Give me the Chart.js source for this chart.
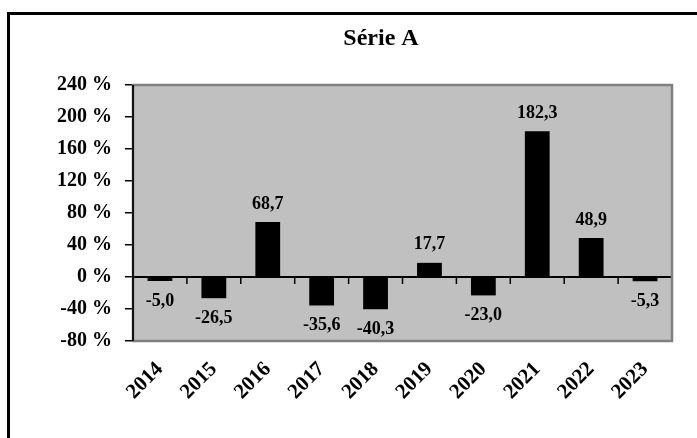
<!DOCTYPE html>
<html>
<head>
<meta charset="utf-8">
<script src="https://cdn.jsdelivr.net/npm/chart.js@4/dist/chart.umd.min.js"></script>
<style>
html,body{margin:0;padding:0;background:#fff;}
#wrap{width:697px;height:438px;position:relative;}
</style>
</head>
<body>
<div id="wrap"><canvas id="c" width="697" height="438"></canvas></div>
<script>
const chartTitle = 'Série A';
const categories = ['2014','2015','2016','2017','2018','2019','2020','2021','2022','2023'];
const values = [-5.0, -26.5, 68.7, -35.6, -40.3, 17.7, -23.0, 182.3, 48.9, -5.3];
const yMin = -80, yMax = 240, yStep = 40;

const SERIF = "'Liberation Serif', 'Times New Roman', serif";

const decor = {
  id: 'decor',
  beforeDraw(chart) {
    const ctx = chart.ctx, a = chart.chartArea;
    ctx.save();
    ctx.fillStyle = '#ffffff';
    ctx.fillRect(0, 0, chart.width, chart.height);
    ctx.fillStyle = '#000';
    ctx.fillRect(7, 12, 3, chart.height);
    ctx.fillRect(7, 12, chart.width, 3);
    ctx.fillStyle = '#c0c0c0';
    ctx.fillRect(a.left, a.top, a.right - a.left, a.bottom - a.top);
    ctx.restore();
  },
  afterDraw(chart) {
    const ctx = chart.ctx, a = chart.chartArea;
    ctx.save();
    ctx.strokeStyle = '#808080';
    ctx.lineWidth = 2.5;
    ctx.strokeRect(a.left, a.top, a.right - a.left, a.bottom - a.top);
    ctx.strokeStyle = '#111';
    ctx.lineWidth = 2;
    ctx.beginPath();
    ctx.moveTo(a.left, a.top);
    ctx.lineTo(a.left, a.bottom);
    ctx.stroke();
    ctx.fillStyle = '#000';
    ctx.font = 'bold 24px ' + SERIF;
    ctx.textAlign = 'center';
    ctx.textBaseline = 'middle';
    ctx.fillText(chartTitle, 381, 39);
    ctx.restore();
  },
  afterDatasetsDraw(chart) {
    const ctx = chart.ctx, a = chart.chartArea;
    const ys = chart.scales.y, xs = chart.scales.x;
    const y0 = ys.getPixelForValue(0);
    ctx.save();
    ctx.strokeStyle = '#000';
    ctx.lineWidth = 2;
    ctx.beginPath();
    ctx.moveTo(a.left, y0);
    ctx.lineTo(a.right, y0);
    ctx.stroke();
    const n = categories.length;
    ctx.lineWidth = 1.5;
    for (let i = 1; i <= n; i++) {
      const x = (i < n) ? (xs.getPixelForValue(i - 1) + xs.getPixelForValue(i)) / 2 : a.right;
      ctx.beginPath();
      ctx.moveTo(x, y0);
      ctx.lineTo(x, y0 + 7);
      ctx.stroke();
    }
    const meta = chart.getDatasetMeta(0);
    ctx.fillStyle = '#000';
    ctx.font = 'bold 18px ' + SERIF;
    ctx.textAlign = 'center';
    ctx.textBaseline = 'middle';
    meta.data.forEach((el, i) => {
      const v = values[i];
      const txt = v.toFixed(1).replace('.', ',');
      const y = v >= 0 ? el.y - 18 : el.y + 20;
      ctx.fillText(txt, el.x, y);
    });
    ctx.restore();
  }
};

new Chart(document.getElementById('c'), {
  type: 'bar',
  data: {
    labels: categories,
    datasets: [{
      data: values,
      backgroundColor: '#000',
      borderWidth: 0,
      categoryPercentage: 1,
      barPercentage: 0.46
    }]
  },
  options: {
    responsive: false,
    animation: false,
    devicePixelRatio: 1,
    layout: { padding: { left: 0, right: 25, top: 85, bottom: 0 } },
    plugins: { legend: { display: false }, title: { display: false }, tooltip: { enabled: false } },
    scales: {
      x: {
        grid: { display: false, drawTicks: false },
        border: { display: false },
        ticks: {
          autoSkip: false, minRotation: 45, maxRotation: 45, padding: 16,
          color: '#000', font: { family: SERIF, size: 21, weight: 'bold' }
        },
        afterFit(s) { s.height = 97; }
      },
      y: {
        min: yMin, max: yMax,
        grid: { display: true, drawOnChartArea: false, drawTicks: true, tickLength: 8, color: '#000', lineWidth: 1.5 },
        border: { display: false },
        ticks: {
          stepSize: yStep, padding: 13, color: '#000',
          font: { family: SERIF, size: 20, weight: 'bold' },
          callback: (v) => v + ' %'
        },
        afterFit(s) { s.width = 133; }
      }
    }
  },
  plugins: [decor]
});
</script>
</body>
</html>
